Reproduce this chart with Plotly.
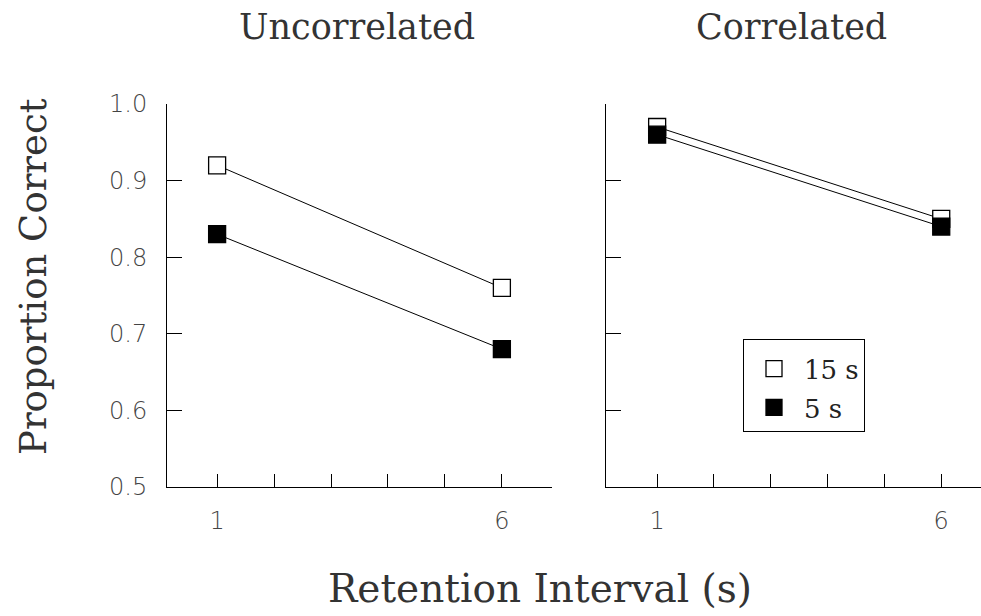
import plotly.graph_objects as go

# ---- data ----
retention = [1, 6]
unc_15s = [0.92, 0.76]
unc_5s = [0.83, 0.68]
cor_15s = [0.97, 0.85]
cor_5s = [0.96, 0.84]
series_names = ["15 s", "5 s"]
panel_titles = ["Uncorrelated", "Correlated"]
x_tickvals = [1, 2, 3, 4, 5, 6]
x_ticktext = ["1", "", "", "", "", "6"]
y_tickvals = [0.5, 0.6, 0.7, 0.8, 0.9, 1.0]
y_ticktext = ["0.5", "0.6", "0.7", "0.8", "0.9", "1.0"]

W, H = 981, 616
T, B = 104, 129
PH = H - T - B

def px(x):
    return x / W

def py(y):
    return (H - B - y) / PH

fig = go.Figure()

open_marker = dict(symbol="square", size=17, color="white", line=dict(color="black", width=1.3))
fill_marker = dict(symbol="square", size=17, color="black", line=dict(color="black", width=1.3))
line_style = dict(color="black", width=1)

# left panel
fig.add_trace(go.Scatter(x=retention, y=unc_15s, mode="lines+markers", name=series_names[0],
                         marker=open_marker, line=line_style, xaxis="x", yaxis="y",
                         showlegend=False))
fig.add_trace(go.Scatter(x=retention, y=unc_5s, mode="lines+markers", name=series_names[1],
                         marker=fill_marker, line=line_style, xaxis="x", yaxis="y",
                         showlegend=False))
# right panel
fig.add_trace(go.Scatter(x=retention, y=cor_15s, mode="lines+markers", name=series_names[0],
                         marker=open_marker, line=line_style, xaxis="x2", yaxis="y2",
                         showlegend=False))
fig.add_trace(go.Scatter(x=retention, y=cor_5s, mode="lines+markers", name=series_names[1],
                         marker=fill_marker, line=line_style, xaxis="x2", yaxis="y2",
                         showlegend=False))
# legend entries (markers only, like the original key)
fig.add_trace(go.Scatter(x=[None], y=[None], mode="markers", name=series_names[0],
                         marker=dict(symbol="square", size=16, color="white",
                                     line=dict(color="black", width=1.3)),
                         xaxis="x2", yaxis="y2", legendgroup="a", showlegend=True))
fig.add_trace(go.Scatter(x=[None], y=[None], mode="markers", name=series_names[1],
                         marker=dict(symbol="square", size=16, color="black",
                                     line=dict(color="black", width=1.3)),
                         xaxis="x2", yaxis="y2", legendgroup="b", showlegend=True))

tickfont = dict(family="DejaVu Sans", size=24, color="#444444", weight=200)
common_x = dict(tickmode="array", tickvals=x_tickvals, ticktext=x_ticktext,
                ticks="inside", ticklen=13, tickwidth=1, tickcolor="black",
                showline=True, linecolor="black", linewidth=1, showgrid=False,
                zeroline=False, tickfont=tickfont, ticklabelstandoff=12)
common_y = dict(range=[0.5, 1.0], tickmode="array", tickvals=y_tickvals,
                ticks="inside", ticklen=15, tickwidth=1, tickcolor="black",
                showline=True, linecolor="black", linewidth=1, showgrid=False,
                zeroline=False, tickfont=tickfont)

fig.update_layout(
    width=W, height=H,
    margin=dict(l=0, r=0, t=T, b=B),
    plot_bgcolor="white", paper_bgcolor="white",
    xaxis=dict(domain=[px(167), px(552)], range=[0.12, 6.88], anchor="y", **common_x),
    yaxis=dict(domain=[0, 1], anchor="x", ticktext=y_ticktext, showticklabels=True,
               ticklabelstandoff=14, **common_y),
    xaxis2=dict(domain=[px(606), 1.0], range=[0.10, 6.70], anchor="y2", **common_x),
    yaxis2=dict(domain=[0, 1], anchor="x2", showticklabels=False, **common_y),
    showlegend=True,
    legend=dict(x=px(743), y=py(339), xanchor="left", yanchor="top",
                bordercolor="black", borderwidth=1, bgcolor="white",
                font=dict(family="DejaVu Serif", size=26, color="#222222"),
                tracegroupgap=2, itemwidth=50,
                title=dict(text=" ", font=dict(size=4))),
)

title_font = dict(family="DejaVu Serif", size=35, color="#333333")
fig.add_annotation(text=panel_titles[0], x=px(357), y=py(27), xref="paper", yref="paper",
                   showarrow=False, font=title_font, xanchor="center", yanchor="middle")
fig.add_annotation(text=panel_titles[1], x=px(791), y=py(27), xref="paper", yref="paper",
                   showarrow=False, font=title_font, xanchor="center", yanchor="middle")
fig.add_annotation(text="Proportion Correct", x=px(33), y=py(277), xref="paper", yref="paper",
                   showarrow=False, textangle=-90, xanchor="center", yanchor="middle",
                   font=dict(family="DejaVu Serif", size=37, color="#333333"))
fig.add_annotation(text="Retention Interval (s)", x=px(540), y=py(588), xref="paper", yref="paper",
                   showarrow=False, xanchor="center", yanchor="middle",
                   font=dict(family="DejaVu Serif", size=39, color="#333333"))

fig.write_html("out.html")
